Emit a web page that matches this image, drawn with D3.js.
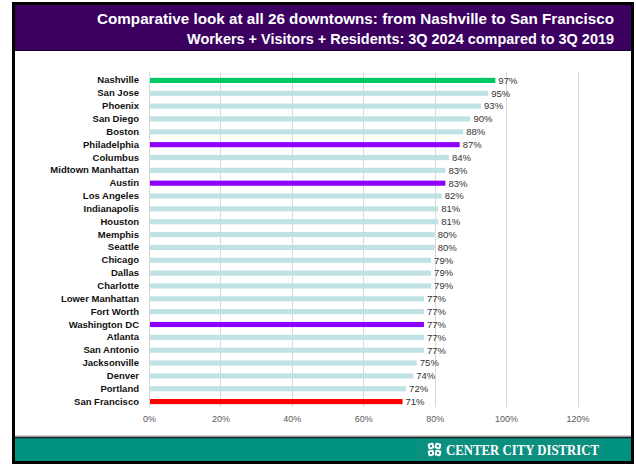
<!DOCTYPE html>
<html>
<head>
<meta charset="utf-8">
<script src="https://cdn.jsdelivr.net/npm/d3@7"></script>
<style>
  body { margin: 0; background: #fff; }
  svg { display: block; }
</style>
</head>
<body>
<div id="chart"></div>
<script>
// downtown recovery, 3Q 2024 as share of 3Q 2019
const cities = ['Nashville', 'San Jose', 'Phoenix', 'San Diego', 'Boston', 'Philadelphia',
  'Columbus', 'Midtown Manhattan', 'Austin', 'Los Angeles', 'Indianapolis', 'Houston',
  'Memphis', 'Seattle', 'Chicago', 'Dallas', 'Charlotte', 'Lower Manhattan', 'Fort Worth',
  'Washington DC', 'Atlanta', 'San Antonio', 'Jacksonville', 'Denver', 'Portland', 'San Francisco'];
const recovery = [97, 95, 93, 90, 88, 87, 84, 83, 83, 82, 81, 81, 80, 80, 79, 79, 79, 77, 77,
  77, 77, 77, 75, 74, 72, 71];
const highlight = { 'Nashville': '#00c866', 'Philadelphia': '#8e00ff', 'Austin': '#8e00ff',
  'Washington DC': '#8e00ff', 'San Francisco': '#ff0000' };
const xTicks = [0, 20, 40, 60, 80, 100, 120];
const titleLines = ['Comparative look at all 26 downtowns: from Nashville to San Francisco',
  'Workers + Visitors + Residents: 3Q 2024 compared to 3Q 2019'];

const W = 636, H = 466;
const MARGIN = { top: 72, right: 58, bottom: 59, left: 149 };
const FONT = "'Liberation Sans', sans-serif";

const svg = d3.select('#chart').append('svg')
  .attr('width', W).attr('height', H);

// outer frame, header band and footer band
svg.append('rect').attr('x', 13.5).attr('y', 3.5).attr('width', 619).attr('height', 459)
  .attr('fill', '#fff').attr('stroke', '#000').attr('stroke-width', 3);
svg.append('rect').attr('x', 15).attr('y', 5).attr('width', 616).attr('height', 45)
  .attr('fill', '#3b0060');
svg.append('line').attr('x1', 15).attr('x2', 631).attr('y1', 50.5).attr('y2', 50.5)
  .attr('stroke', '#1a0030').attr('stroke-width', 1);
svg.append('rect').attr('x', 15).attr('y', 437).attr('width', 616).attr('height', 24)
  .attr('fill', '#009180');
svg.append('line').attr('x1', 15).attr('x2', 631).attr('y1', 436).attr('y2', 436)
  .attr('stroke', '#9a9a9a').attr('stroke-width', 1);
svg.append('line').attr('x1', 15).attr('x2', 631).attr('y1', 437.5).attr('y2', 437.5)
  .attr('stroke', '#1c1c1c').attr('stroke-width', 1.5);

svg.selectAll('.title')
  .data(titleLines)
  .enter().append('text')
  .attr('x', 614)
  .attr('y', (d, i) => 24 + i * 20)
  .attr('text-anchor', 'end')
  .attr('font-family', FONT)
  .attr('font-weight', 'bold')
  .attr('font-size', 15)
  .attr('fill', '#fff')
  .attr('textLength', (d, i) => i === 0 ? 517 : 427)
  .attr('lengthAdjust', 'spacingAndGlyphs')
  .text(d => d);

const innerW = W - MARGIN.left - MARGIN.right;
const innerH = H - MARGIN.top - MARGIN.bottom;

const g = svg.append('g')
  .attr('transform', 'translate(' + MARGIN.left + ',' + MARGIN.top + ')');

const x = d3.scaleLinear().domain([0, 120]).range([0, innerW - 0.5]);
const y = d3.scaleBand().domain(cities).range([2, innerH + 1]).paddingInner(0.6).paddingOuter(0.3);

// vertical gridlines
g.selectAll('.grid')
  .data(xTicks)
  .enter().append('line')
  .attr('x1', d => Math.round(x(d)) + 0.5)
  .attr('x2', d => Math.round(x(d)) + 0.5)
  .attr('y1', 0)
  .attr('y2', innerH)
  .attr('stroke', '#d9d9d9')
  .attr('stroke-width', 1);

g.selectAll('.bar')
  .data(cities)
  .enter().append('rect')
  .attr('x', x(0) + 1)
  .attr('y', d => y(d))
  .attr('width', (d, i) => x(recovery[i]) - x(0) - 1)
  .attr('height', y.bandwidth())
  .attr('fill', d => highlight[d] || '#bfe2e5');

g.selectAll('.val')
  .data(cities)
  .enter().append('text')
  .attr('x', (d, i) => x(recovery[i]) + 3)
  .attr('y', d => y(d) + y.bandwidth() / 2)
  .attr('dy', '0.35em')
  .attr('font-family', FONT)
  .attr('font-size', 9.5)
  .attr('fill', '#333')
  .text((d, i) => recovery[i] + '%');

// category axis
const yAxis = g.append('g')
  .call(d3.axisLeft(y).tickSize(0).tickPadding(10));
yAxis.select('.domain').remove();
yAxis.selectAll('text')
  .attr('font-family', FONT)
  .attr('font-weight', 'bold')
  .attr('font-size', 9.5)
  .attr('fill', '#111');

// percentage axis
const xAxis = g.append('g')
  .attr('transform', 'translate(0,' + innerH + ')')
  .call(d3.axisBottom(x).tickValues(xTicks).tickSize(0).tickPadding(9).tickFormat(d => d + '%'));
xAxis.select('.domain').remove();
xAxis.selectAll('text')
  .attr('font-family', FONT)
  .attr('font-size', 9)
  .attr('fill', '#595959');

// footer logo
const logo = svg.append('g').attr('transform', 'translate(418,439)');
logo.append('rect').attr('width', 185).attr('height', 21).attr('fill', '#0c8f7f');
[[10, 4], [17, 4], [10, 11], [17, 11]].forEach(function (p, i) {
  logo.append('rect')
    .attr('x', p[0]).attr('y', p[1]).attr('width', 6).attr('height', 6)
    .attr('rx', 1.5)
    .attr('fill', '#fff')
    .attr('transform', 'rotate(' + (i % 2 ? 12 : -12) + ',' + (p[0] + 3) + ',' + (p[1] + 3) + ')');
  logo.append('circle').attr('cx', p[0] + 3).attr('cy', p[1] + 3).attr('r', 1.2).attr('fill', '#0c8f7f');
});
logo.append('text')
  .attr('x', 28).attr('y', 16)
  .attr('font-family', "'Liberation Serif', serif")
  .attr('font-weight', 'bold')
  .attr('font-size', 15)
  .attr('fill', '#fff')
  .attr('textLength', 153)
  .attr('lengthAdjust', 'spacingAndGlyphs')
  .text('CENTER CITY DISTRICT');
</script>
</body>
</html>
